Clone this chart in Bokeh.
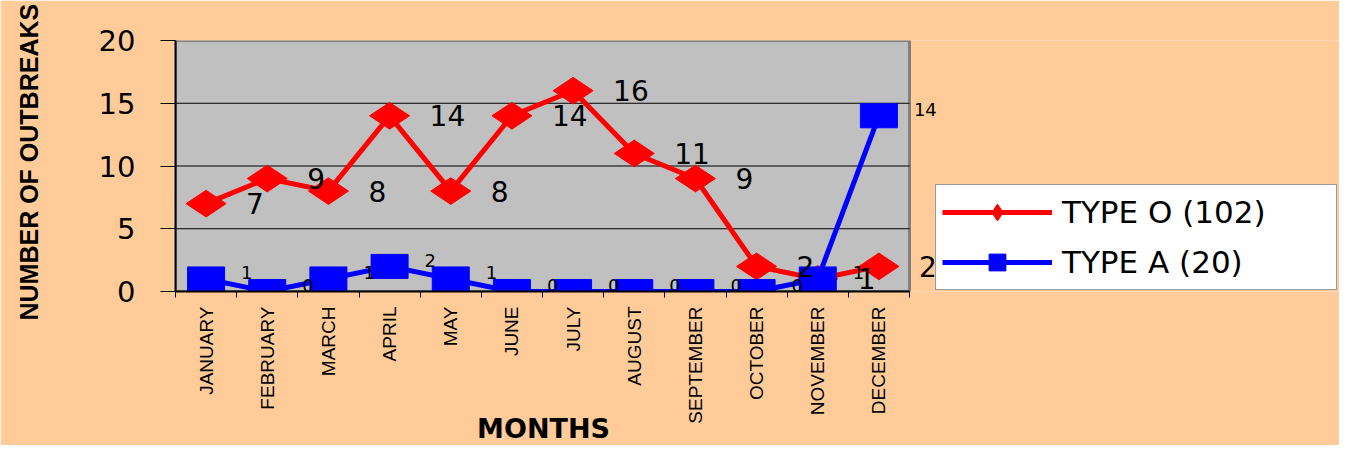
import math
from bokeh.plotting import figure
from bokeh.models import (ColumnDataSource, LabelSet, Label, Legend, LegendItem,
                          FixedTicker, Range1d, BoxAnnotation)
from bokeh.core.properties import value
from bokeh.embed import file_html
from bokeh.resources import INLINE

# ---- data ----
months = ["JANUARY", "FEBRUARY", "MARCH", "APRIL", "MAY", "JUNE", "JULY",
          "AUGUST", "SEPTEMBER", "OCTOBER", "NOVEMBER", "DECEMBER"]
type_o = [7, 9, 8, 14, 8, 14, 16, 11, 9, 2, 1, 2]
type_a = [1, 0, 1, 2, 1, 0, 0, 0, 0, 0, 1, 14]
series_names = ["TYPE O (102)", "TYPE A (20)"]
y_ticks = [0, 5, 10, 15, 20]
y_title = "NUMBER OF OUTBREAKS"
x_title = "MONTHS"

n = len(months)
pos = list(range(1, n + 1))
src = ColumnDataSource(dict(
    x=pos, o=type_o, a=type_a,
    o_txt=[str(v) for v in type_o], a_txt=[str(v) for v in type_a]))

# layout (pixels)
W, H = 1339, 445
left, top, area_right, bottom = 175, 40, 909, 291
frame_right = W
x_start, x_stop = 0.5, n + 0.5
x_end = x_start + (x_stop - x_start) * (frame_right - left) / (area_right - left)

p = figure(width=W, height=H, output_backend="svg", toolbar_location=None,
           x_range=Range1d(x_start, x_end), y_range=Range1d(y_ticks[0], y_ticks[-1]),
           min_border_left=left, min_border_right=0,
           min_border_top=top, min_border_bottom=H - bottom)
p.background_fill_color = "#FFCC99"
p.border_fill_color = "#FFCC99"
p.outline_line_color = None
p.xgrid.grid_line_color = None
p.ygrid.grid_line_color = None

# gray plot area
p.add_layout(BoxAnnotation(left=x_start, right=x_stop, bottom=y_ticks[0], top=y_ticks[-1],
                           fill_color="#C0C0C0", fill_alpha=1, line_color="#808080",
                           line_width=3, line_alpha=1, level="underlay"))
# horizontal grid lines
inner = y_ticks[1:-1]
p.segment(x0=[x_start] * len(inner), x1=[x_stop] * len(inner), y0=inner, y1=inner,
          line_color="black", line_width=1)

# y axis
p.yaxis.ticker = FixedTicker(ticks=y_ticks, minor_ticks=[])
p.yaxis.axis_line_color = "black"
p.yaxis.axis_line_width = 2
p.yaxis.major_tick_in = 0
p.yaxis.major_tick_out = 15
p.yaxis.major_tick_line_color = "black"
p.yaxis.major_label_standoff = 25
p.yaxis.major_label_text_font = "DejaVu Sans"
p.yaxis.major_label_text_font_size = "29px"
p.yaxis.major_label_text_color = "black"

# x axis: labels at category centres, ticks at boundaries
p.xaxis.bounds = (x_start, x_stop)
p.xaxis.ticker = FixedTicker(ticks=pos, minor_ticks=[i + 0.5 for i in range(n + 1)])
p.xaxis.major_label_overrides = {k: m for k, m in zip(pos, months)}
p.xaxis.axis_line_color = "black"
p.xaxis.axis_line_width = 2
p.xaxis.major_tick_line_color = None
p.xaxis.major_tick_in = 0
p.xaxis.major_tick_out = 0
p.xaxis.minor_tick_line_color = "black"
p.xaxis.minor_tick_in = 0
p.xaxis.minor_tick_out = 6
p.xaxis.major_label_orientation = math.pi / 2
p.xaxis.major_label_standoff = 9
p.xaxis.major_label_text_font = "Liberation Sans"
p.xaxis.major_label_text_font_size = "19px"
p.xaxis.major_label_text_color = "black"

# series
red, blue = "#FF0000", "#0000FF"
o_line = p.line("x", "o", source=src, line_color=red, line_width=5)
o_mark = p.scatter("x", "o", source=src, marker="diamond", size=40, angle=math.pi / 2,
                   fill_color=red, line_color=red)
a_line = p.line("x", "a", source=src, line_color=blue, line_width=5)
p.rect("x", "a", source=src, width=37, height=24, width_units="screen",
       height_units="screen", fill_color=blue, line_color=blue)
a_mark = p.scatter("x", "a", source=src, marker="square", size=22,
                   fill_color=blue, line_color=blue)

# data labels
p.add_layout(LabelSet(x="x", y="o", text="o_txt", source=src, x_offset=40, y_offset=0,
                      text_align="left", text_baseline="middle",
                      text_font=value("DejaVu Sans"), text_font_size="28px",
                      text_color="black"))
p.add_layout(LabelSet(x="x", y="a", text="a_txt", source=src, x_offset=35, y_offset=6,
                      text_align="left", text_baseline="middle",
                      text_font=value("DejaVu Sans"), text_font_size="18px",
                      text_color="black"))

# legend (inside the frame, right of the gray plot area)
legend = Legend(items=[LegendItem(label=series_names[0], renderers=[o_line, o_mark]),
                       LegendItem(label=series_names[1], renderers=[a_line, a_mark])],
                location=(760, 1), orientation="vertical",
                glyph_width=110, glyph_height=42, label_height=42, spacing=8,
                padding=6, margin=0, label_standoff=10, label_width=268,
                label_text_font="DejaVu Sans", label_text_font_size="31px",
                label_text_color="black",
                background_fill_color="white", background_fill_alpha=1,
                border_line_color="#333333", border_line_width=1)
p.add_layout(legend, "center")

# titles
p.add_layout(Label(x=28, y=320, x_units="canvas", y_units="canvas", text=y_title,
                   angle=math.pi / 2, text_align="left", text_baseline="middle",
                   text_font="Liberation Sans", text_font_style="bold",
                   text_font_size="25px", text_color="black"), "left")
p.add_layout(Label(x=543, y=428, x_units="canvas", y_units="canvas", text=x_title,
                   text_align="center", text_baseline="alphabetic",
                   text_font="DejaVu Sans", text_font_style="bold",
                   text_font_size="27px", text_color="black"), "above")

open("out.html", "w").write(file_html(p, INLINE))
